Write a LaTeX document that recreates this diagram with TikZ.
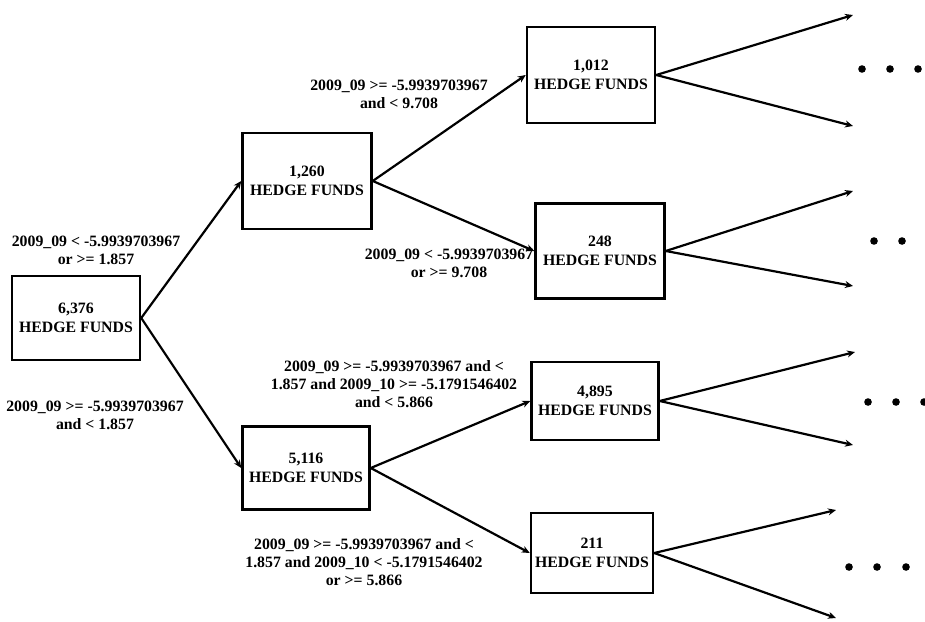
\documentclass[tikz,border=0pt]{standalone}
\usepackage{fontspec}
\setmainfont{Liberation Serif}
\usetikzlibrary{arrows.meta, positioning}

\tikzset{
  fundbox/.style={draw, line width=2.5pt, align=center, inner sep=0pt,
    font=\fontsize{15.8}{19}\selectfont\bfseries},
  rule/.style={align=center, inner sep=0pt,
    font=\fontsize{15.8}{18}\selectfont\bfseries},
  arr/.style={-{Stealth[length=8pt,width=7pt]}, line width=2.2pt},
}

\begin{document}
\begin{tikzpicture}[x=1pt, y=-1pt]
	\useasboundingbox (0,0) rectangle (925,621);
	
	% Root and first split
	\node[fundbox, minimum width=128pt, minimum height=84pt] (root) at (76,318) {6,376\\HEDGE FUNDS};
	\node[fundbox, minimum width=129pt, minimum height=96pt] (hi) at (307,181) {1,260\\HEDGE FUNDS};
	\node[fundbox, minimum width=127pt, minimum height=83pt] (lo) at (306,468) {5,116\\HEDGE FUNDS};
	
	% Second split
	\node[fundbox, minimum width=128pt, minimum height=96pt] (hihi) at (591,75) {1,012\\HEDGE FUNDS};
	\node[fundbox, minimum width=129pt, minimum height=95pt] (hilo) at (600,251) {248\\HEDGE FUNDS};
	\node[fundbox, minimum width=127pt, minimum height=78pt] (lohi) at (595,401) {4,895\\HEDGE FUNDS};
	\node[fundbox, minimum width=122pt, minimum height=80pt] (lolo) at (592,553) {211\\HEDGE FUNDS};
	
	% Split rules
	\node[rule] (r1) at (96,250) {2009\_09 < -5.9939703967\\or >= 1.857};
	\node[rule] (r2) at (95,415) {2009\_09 >= -5.9939703967\\and < 1.857};
	\node[rule] (r11) at (399,94) {2009\_09 >= -5.9939703967\\and < 9.708};
	\node[rule] (r12) at (449,263) {2009\_09 < -5.9939703967\\or >= 9.708};
	\node[rule] (r21) at (394,384) {2009\_09 >= -5.9939703967 and <\\1.857 and 2009\_10 >= -5.1791546402\\and < 5.866};
	\node[rule] (r22) at (364,562) {2009\_09 >= -5.9939703967 and <\\1.857 and 2009\_10 < -5.1791546402\\or >= 5.866};
	
	% Connectors
	\draw[arr] (root.east) -- (hi.west);
	\draw[arr] (root.east) -- (lo.west);
	\draw[arr] (hi.east) -- (hihi.west);
	\draw[arr] (hi.east) -- (hilo.west);
	\draw[arr] (lo.east) -- (lohi.west);
	\draw[arr] (lo.east) -- (lolo.west);
	
	% Open ends
	\coordinate (a1) at (853,15);
	\coordinate (a2) at (853,126);
	\coordinate (b1) at (853,191);
	\coordinate (b2) at (853,286);
	\coordinate (c1) at (855,352);
	\coordinate (c2) at (853,445);
	\coordinate (d1) at (836,510);
	\coordinate (d2) at (836,618);
	\draw[arr] (hihi.east) -- (a1);
	\draw[arr] (hihi.east) -- (a2);
	\draw[arr] (hilo.east) -- (b1);
	\draw[arr] (hilo.east) -- (b2);
	\draw[arr] (lohi.east) -- (c1);
	\draw[arr] (lohi.east) -- (c2);
	\draw[arr] (lolo.east) -- (d1);
	\draw[arr] (lolo.east) -- (d2);
	
	% Dots
	\foreach \x in {862,890,918} \fill (\x,69) circle (3.8pt);
	\foreach \x in {874,902} \fill (\x,241) circle (3.8pt);
	\foreach \x in {868,896,924} \fill (\x,402) circle (3.8pt);
	\foreach \x in {849,877,906} \fill (\x,567) circle (3.8pt);
\end{tikzpicture}
\end{document}
